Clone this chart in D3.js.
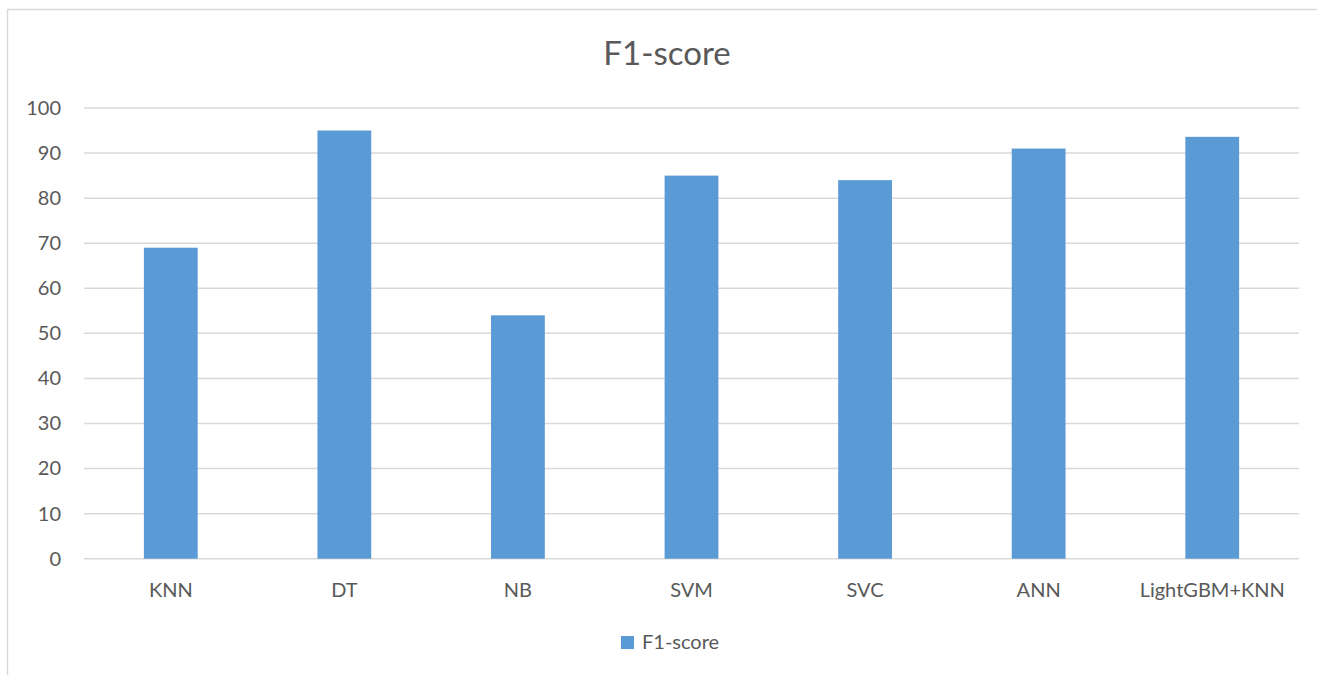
<!DOCTYPE html>
<html>
<head>
<meta charset="utf-8">
<script src="https://cdn.jsdelivr.net/npm/d3@7"></script>
<style>
  html, body { margin: 0; padding: 0; background: #fff; }
  svg { display: block; }
  text { font-family: Lato, "Open Sans", "Liberation Sans", sans-serif; fill: #595959; }
</style>
</head>
<body>
<svg id="chart" width="1317" height="675"></svg>
<script>
// Model names and their F1-score values
const categories = ["KNN", "DT", "NB", "SVM", "SVC", "ANN", "LightGBM+KNN"];
const f1Scores = [69, 95, 54, 85, 84, 91, 93.6];
const yTicks = [0, 10, 20, 30, 40, 50, 60, 70, 80, 90, 100];
const seriesName = "F1-score";
const chartTitle = "F1-score";

const svg = d3.select("#chart");
const W = 1317, H = 675;
const margin = { left: 84, right: 18, top: 108, bottom: 116.3 };
const plotW = W - margin.left - margin.right;
const plotH = H - margin.top - margin.bottom;

// outer chart frame
svg.append("rect")
  .attr("x", 7.5).attr("y", 9.5)
  .attr("width", 1330).attr("height", 700)
  .attr("fill", "#fff")
  .attr("stroke", "#d9d9d9").attr("stroke-width", 1.5);

const x = d3.scaleBand().domain(categories).range([0, plotW]).paddingInner(0.69).paddingOuter(0.345);
const y = d3.scaleLinear().domain([0, 100]).range([plotH, 0]);

const g = svg.append("g").attr("transform", `translate(${margin.left},${margin.top})`);

// horizontal gridlines
g.append("g")
  .selectAll("line")
  .data(yTicks)
  .join("line")
  .attr("x1", 0).attr("x2", plotW)
  .attr("y1", d => y(d)).attr("y2", d => y(d))
  .attr("stroke", "#d9d9d9").attr("stroke-width", 1.5);

// y axis labels
const yAxis = g.append("g")
  .call(d3.axisLeft(y).tickValues(yTicks).tickSize(0).tickPadding(23));
yAxis.select(".domain").remove();
yAxis.selectAll("text").style("font-size", "20px").attr("fill", "#595959");

// bars
g.append("g")
  .selectAll("rect")
  .data(categories.map((c, i) => ({ c, v: f1Scores[i] })))
  .join("rect")
  .attr("x", d => x(d.c))
  .attr("width", x.bandwidth())
  .attr("y", d => y(d.v))
  .attr("height", d => y(0) - y(d.v))
  .attr("fill", "#5b9bd5");

// x axis labels
const xAxis = g.append("g")
  .attr("transform", `translate(0,${plotH})`)
  .call(d3.axisBottom(x).tickSize(0).tickPadding(24));
xAxis.select(".domain").remove();
xAxis.selectAll("text").style("font-size", "20px").attr("fill", "#595959");

// title
svg.append("text")
  .attr("x", 667).attr("y", 65)
  .attr("text-anchor", "middle")
  .style("font-size", "33px")
  .text(chartTitle);

// legend
const legend = svg.append("g").attr("transform", "translate(621,636)");
legend.append("rect").attr("width", 13).attr("height", 13).attr("fill", "#5b9bd5");
legend.append("text").attr("x", 21).attr("y", 13).style("font-size", "20px").text(seriesName);
</script>
</body>
</html>
